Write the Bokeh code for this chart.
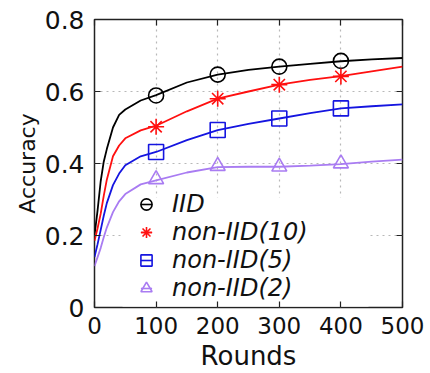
from bokeh.plotting import figure
from bokeh.models import LinearAxis, FixedTicker, Legend, LegendItem, Range1d, BoxAnnotation
from bokeh.embed import file_html
from bokeh.resources import INLINE

# ---- data ----
rounds = [0, 5, 10, 15, 20, 30, 40, 50, 75, 100, 150, 200, 250, 300, 350, 400, 450, 500]
iid_curve = [0.20, 0.27, 0.35, 0.405, 0.44, 0.50, 0.535, 0.55, 0.575, 0.59, 0.625, 0.647,
             0.66, 0.669, 0.677, 0.684, 0.689, 0.693]
n10_curve = [0.185, 0.22, 0.26, 0.31, 0.355, 0.42, 0.45, 0.47, 0.492, 0.505, 0.545, 0.58,
             0.60, 0.619, 0.632, 0.643, 0.656, 0.669]
n5_curve = [0.14, 0.176, 0.215, 0.255, 0.29, 0.34, 0.372, 0.395, 0.42, 0.432, 0.465, 0.493,
            0.51, 0.525, 0.54, 0.553, 0.559, 0.564]
n2_curve = [0.115, 0.14, 0.165, 0.195, 0.222, 0.265, 0.295, 0.315, 0.342, 0.353, 0.375, 0.39,
            0.391, 0.391, 0.394, 0.398, 0.405, 0.411]

marker_rounds = [100, 200, 300, 400]
iid_marks = [0.589, 0.647, 0.669, 0.685]
n10_marks = [0.502, 0.58, 0.619, 0.642]
n5_marks = [0.432, 0.493, 0.525, 0.553]
n2_marks = [0.356, 0.393, 0.391, 0.40]

labels = ["IID", "non-IID(10)", "non-IID(5)", "non-IID(2)"]
colors = ["#000000", "#ff1010", "#1515e0", "#a97cf2"]
markers = ["circle", "asterisk", "square", "triangle"]
x_ticks = [0, 100, 200, 300, 400, 500]
y_ticks = [0, 0.2, 0.4, 0.6, 0.8]

FONT = "DejaVu Sans"

p = figure(width=430, height=373, output_backend="svg", toolbar_location=None,
           x_range=Range1d(0, 500), y_range=Range1d(0, 0.8),
           min_border_left=94, min_border_right=28, min_border_top=19, min_border_bottom=62)
p.background_fill_color = "white"
p.border_fill_color = "white"
p.outline_line_color = "#222222"
p.outline_line_width = 1.5

# axes
for ax in (p.xaxis[0], p.yaxis[0]):
    ax.axis_line_color = None
    ax.major_tick_in = 6
    ax.major_tick_out = 0
    ax.minor_tick_line_color = None
    ax.major_tick_line_color = "#222222"
    ax.major_tick_line_width = 1.2
    ax.major_label_text_font = FONT
    ax.major_label_text_color = "#111111"
    ax.axis_label_text_font = FONT
    ax.axis_label_text_font_style = "normal"
    ax.axis_label_text_color = "#111111"

p.xaxis.ticker = FixedTicker(ticks=x_ticks)
p.yaxis.ticker = FixedTicker(ticks=y_ticks)
p.xaxis.major_label_text_font_size = "23px"
p.yaxis.major_label_text_font_size = "25px"
p.yaxis.major_label_overrides = {0: "0"}
p.xaxis.axis_label = "Rounds"
p.yaxis.axis_label = "Accuracy"
p.xaxis.axis_label_text_font_size = "26px"
p.yaxis.axis_label_text_font_size = "22px"
p.xaxis.major_label_standoff = 9
p.yaxis.major_label_standoff = 10
p.xaxis.axis_label_standoff = 4
p.yaxis.axis_label_standoff = 2

for loc, tick in (("above", x_ticks), ("right", y_ticks)):
    ax = LinearAxis(ticker=FixedTicker(ticks=tick), axis_line_color=None,
                    major_tick_in=6, major_tick_out=0, minor_tick_line_color=None,
                    major_tick_line_color="#222222", major_tick_line_width=1.2,
                    major_label_overrides={t: "" for t in tick},
                    major_label_standoff=0)
    p.add_layout(ax, loc)

p.xgrid.ticker = FixedTicker(ticks=x_ticks[1:-1])
p.ygrid.ticker = FixedTicker(ticks=y_ticks[1:-1])
for g in (p.xgrid[0], p.ygrid[0]):
    g.grid_line_color = "#b8b8b8"
    g.grid_line_dash = "2 4"
    g.grid_line_width = 1.2

# opaque key area (hides the grid behind the legend, like the original)
key_bg = BoxAnnotation(left=122, right=368, top=197, bottom=306,
                       left_units="canvas", right_units="canvas",
                       top_units="canvas", bottom_units="canvas",
                       fill_color="white", fill_alpha=1.0, line_color=None,
                       level="underlay")
p.add_layout(key_bg)

curves = [iid_curve, n10_curve, n5_curve, n2_curve]
marks = [iid_marks, n10_marks, n5_marks, n2_marks]
row_y = [89, 61, 33, 5]   # legend row offsets from the frame bottom (px)
for lab, col, mk, cur, mv, ry in zip(labels, colors, markers, curves, marks, row_y):
    p.line(rounds, cur, line_color=col, line_width=1.8)
    r = p.scatter(marker_rounds, mv, marker=mk, size=16 if mk == "asterisk" else 15,
                  line_color=col, fill_color=None, line_width=1.6)
    # hidden twin used only to draw the short line through the legend marker
    d = p.scatter(marker_rounds, mv, marker="dash", size=15, line_color=col,
                  line_width=1.6, visible=False)
    lg = Legend(items=[LegendItem(label=lab, renderers=[r, d])], location=(37, ry),
                glyph_width=30, glyph_height=28, padding=0, margin=0, label_standoff=11,
                label_text_font=FONT, label_text_font_style="italic",
                label_text_font_size="24px", label_text_color="#111111",
                background_fill_alpha=0, border_line_alpha=0)
    p.add_layout(lg, "center")

open("out.html", "w").write(file_html(p, INLINE))
